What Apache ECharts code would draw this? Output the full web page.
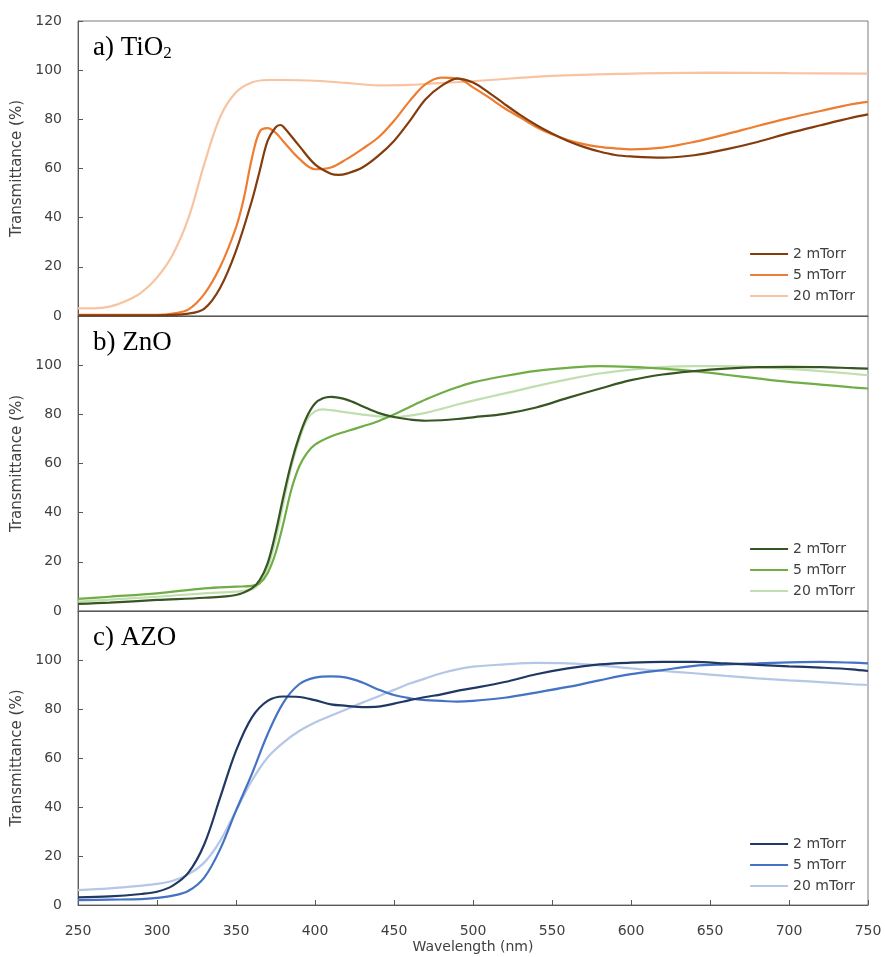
<!DOCTYPE html>
<html>
<head>
<meta charset="utf-8">
<script src="https://cdn.jsdelivr.net/npm/echarts@6/dist/echarts.min.js"></script>
<style>html,body{margin:0;padding:0;background:#fff}#c{width:885px;height:957px}</style>
</head>
<body>
<div id="c"></div>
<script>
// ---- Data (wavelength in nm, transmittance in %) ----
const seriesNames = ['2 mTorr', '5 mTorr', '20 mTorr'];
const panelTitles = ['a) TiO', 'b) ZnO', 'c) AZO'];
const xTicks = [250, 300, 350, 400, 450, 500, 550, 600, 650, 700, 750];
const yTicks = [0, 20, 40, 60, 80, 100, 120];

// a) TiO2
const wlA2 = [250,300,320,330,340,350,360,365,370,375,378,380,390,400,410,415,420,430,440,450,460,470,480,490,500,510,520,530,540,550,560,570,580,590,600,620,640,660,680,700,720,740,750];
const tA2  = [0.3,0.3,1,3,11.5,26.5,46.8,59,71.2,76.7,77.7,77,69.2,61.7,57.9,57.4,57.9,60.4,65.1,71.2,79.4,88.2,93.6,96.6,95,90.9,86.2,81.7,77.7,74.2,71.2,68.8,66.9,65.5,64.9,64.4,65.4,67.8,70.8,74.4,77.6,80.7,82];
const wlA5 = [250,300,310,320,330,340,350,355,360,365,370,375,380,390,400,410,420,430,440,450,460,470,480,490,500,510,520,530,540,550,560,570,580,590,600,620,640,660,680,700,720,740,750];
const tA5  = [0.5,0.5,1,2.7,9,20,36,48,64,75,76.4,74.6,71,64,59.7,60.4,63.8,68,72.6,79.4,87.5,94.3,97,96.7,93,88.9,84.5,80.7,76.9,73.9,71.6,69.9,68.8,68.2,67.8,68.5,70.8,73.9,77.3,80.5,83.4,86.2,87.1];
const wlA20 = [250,260,270,280,290,300,310,320,330,340,350,360,370,380,400,420,440,460,480,500,550,600,650,700,750];
const tA20  = [3.1,3.1,3.8,6,9.5,15.6,25,40,62,81,91,95,96,96,95.7,94.8,93.8,94,94.8,95.5,97.7,98.6,99,98.8,98.6];

// b) ZnO
const wlB2 = [250,270,300,330,350,360,365,370,375,380,385,390,395,400,405,410,420,430,440,450,460,470,480,490,500,520,540,560,580,600,620,640,660,680,700,720,740,750];
const tB2  = [2.9,3.4,4.5,5.4,6.5,9.2,12.6,19.4,31.7,46.6,60.2,71,79.2,84.4,86.5,87.1,86,83.3,80.6,78.9,77.9,77.4,77.6,78.1,78.8,80.2,82.8,86.7,90.4,93.9,96.2,97.6,98.6,99.2,99.3,99.2,98.8,98.6];
const wlB5 = [250,270,300,330,350,360,365,370,375,380,385,390,395,400,410,420,430,440,450,460,470,480,490,500,520,540,560,580,600,620,640,660,680,700,720,740,750];
const tB5  = [4.9,5.8,7.2,9.2,9.9,10.2,11.3,15.4,23.5,35.7,49.3,58.8,64.3,67.7,71,73.1,75.1,77.2,79.9,83,86,88.7,91,93,95.6,97.7,98.9,99.6,99.3,98.6,97.6,96.1,94.6,93.2,92.1,91,90.5];
const wlB20 = [250,300,330,350,360,365,370,375,380,385,390,395,400,405,410,420,430,440,450,460,470,480,490,500,520,540,560,580,600,620,640,660,680,700,720,740,750];
const tB20  = [3.8,5.8,7.2,7.9,8.8,11.3,17.4,28.9,43.9,58.8,69.7,77.9,81.2,82,81.7,80.8,79.9,79.2,78.9,79.5,80.6,82.2,84,85.6,88.5,91.5,94.2,96.6,98.2,99.2,99.6,99.6,99.2,98.5,97.6,96.5,95.9];

// c) AZO
const wlC = [250,270,290,300,310,320,330,340,350,360,370,380,390,400,410,420,430,440,450,460,470,480,490,500,520,540,560,580,600,620,640,660,680,700,720,740,750];
const tC2  = [3.1,3.5,4.5,5.4,7.9,13.3,24.9,43.9,62.9,76.5,83.3,85.1,84.9,83.6,81.9,81.3,80.8,81,82.2,83.6,84.9,86,87.4,88.5,91,94.2,96.6,98.2,98.9,99.2,99.2,98.6,98,97.4,96.9,96.2,95.5];
const tC5  = [2,2.2,2.4,2.9,3.8,5.8,11.3,22.8,38.5,53.4,69.7,82.6,90.1,92.8,93.3,92.8,90.8,88,85.7,84.4,83.6,83.3,83,83.3,84.6,86.7,89,91.7,94.2,95.9,97.6,98.2,98.6,99,99.2,98.9,98.6];
const tC20 = [6.1,6.8,7.9,8.6,9.9,12.6,17.4,26.2,38.5,50.7,60.2,66.3,71,74.5,77.2,79.9,82.6,85.1,87.8,90.4,92.5,94.6,96.2,97.3,98.2,98.8,98.6,97.8,96.6,95.5,94.6,93.5,92.5,91.7,91,90.1,89.8];

// ---- Layout / styling ----
const panels = [
  { top: 21,  height: 295, legendTop: 247, colors: ['#843c0c', '#ed7d31', '#f7c3a0'],
    data: [[wlA2, tA2], [wlA5, tA5], [wlA20, tA20]], sub: '2' },
  { top: 316, height: 295, legendTop: 542, colors: ['#375623', '#70ad47', '#c1deae'],
    data: [[wlB2, tB2], [wlB5, tB5], [wlB20, tB20]], sub: '' },
  { top: 611, height: 294, legendTop: 837, colors: ['#203864', '#4472c4', '#b4c7e7'],
    data: [[wlC, tC2], [wlC, tC5], [wlC, tC20]], sub: '' }
];

const axisGray = '#7a7a7a';
const textGray = '#404040';
const uiFont = 'DejaVu Sans';
const zip = (xs, ys) => xs.map((x, i) => [x, ys[i]]);

const grid = [], xAxis = [], yAxis = [], series = [], legend = [], graphic = [];
panels.forEach((p, k) => {
  const last = k === panels.length - 1;
  grid.push({ left: 78, width: 790, top: p.top, height: p.height, show: true,
    borderColor: axisGray, borderWidth: 1, backgroundColor: 'transparent' });
  xAxis.push({
    type: 'value', gridIndex: k, min: xTicks[0], max: xTicks[xTicks.length - 1], interval: 50,
    axisLine: { show: true, lineStyle: { color: '#595959', width: 1 } },
    axisTick: { show: last, inside: true, length: 5, lineStyle: { color: '#595959' } },
    axisLabel: { show: last, fontSize: 14, color: textGray, fontFamily: uiFont, margin: 19 },
    splitLine: { show: false },
    name: last ? 'Wavelength (nm)' : '', nameLocation: 'middle', nameGap: 35,
    nameTextStyle: { fontSize: 14, color: textGray, fontFamily: uiFont }
  });
  yAxis.push({
    type: 'value', gridIndex: k, min: yTicks[0], max: yTicks[yTicks.length - 1], interval: 20,
    axisLine: { show: true, lineStyle: { color: '#595959', width: 1 } },
    axisTick: { show: true, inside: true, length: 5, lineStyle: { color: '#595959' } },
    axisLabel: { fontSize: 14, color: textGray, fontFamily: uiFont, margin: 16,
      formatter: v => (k > 0 && v === 120) ? '' : String(v) },
    splitLine: { show: false },
    name: 'Transmittance (%)', nameLocation: 'middle', nameGap: 51,
    nameTextStyle: { fontSize: 15, color: textGray, fontFamily: uiFont }
  });
  p.data.forEach((d, j) => {
    series.push({
      type: 'line', name: seriesNames[j] + '\u200B'.repeat(k), xAxisIndex: k, yAxisIndex: k,
      data: zip(d[0], d[1]), symbol: 'none', smooth: 0.35,
      lineStyle: { color: p.colors[j], width: 2.2 }, itemStyle: { color: p.colors[j] },
      z: 10 - j
    });
  });
  legend.push({
    orient: 'vertical', left: 749, top: p.legendTop, padding: 0,
    itemWidth: 38, itemHeight: 14, itemGap: 7,
    itemStyle: { color: 'rgba(0,0,0,0)', borderColor: 'rgba(0,0,0,0)', borderWidth: 0, opacity: 0 },
    lineStyle: { width: 2.2 },
    textStyle: { fontSize: 14, color: textGray, fontFamily: uiFont },
    data: seriesNames.map(n => ({ name: n + '\u200B'.repeat(k) })),
    formatter: n => n.replace(/\u200B/g, ''),
    selectedMode: false
  });
});

const titleRich = {
  main: { fontFamily: 'Liberation Serif', fontSize: 27, color: '#1a1a1a' },
  sub: { fontFamily: 'Liberation Serif', fontSize: 17, color: '#1a1a1a', verticalAlign: 'bottom', padding: [13, 0, 0, 0] }
};
panels.forEach((p, k) => {
  graphic.push({
    type: 'text', left: 93, top: p.top + 13,
    style: { text: '{main|' + panelTitles[k] + '}' + (p.sub ? '{sub|' + p.sub + '}' : ''), rich: titleRich }
  });
});

const chart = echarts.init(document.getElementById('c'), null, { renderer: 'canvas' });
chart.setOption({
  animation: false,
  backgroundColor: '#ffffff',
  grid, xAxis, yAxis, series, legend, graphic
});
</script>
</body>
</html>
